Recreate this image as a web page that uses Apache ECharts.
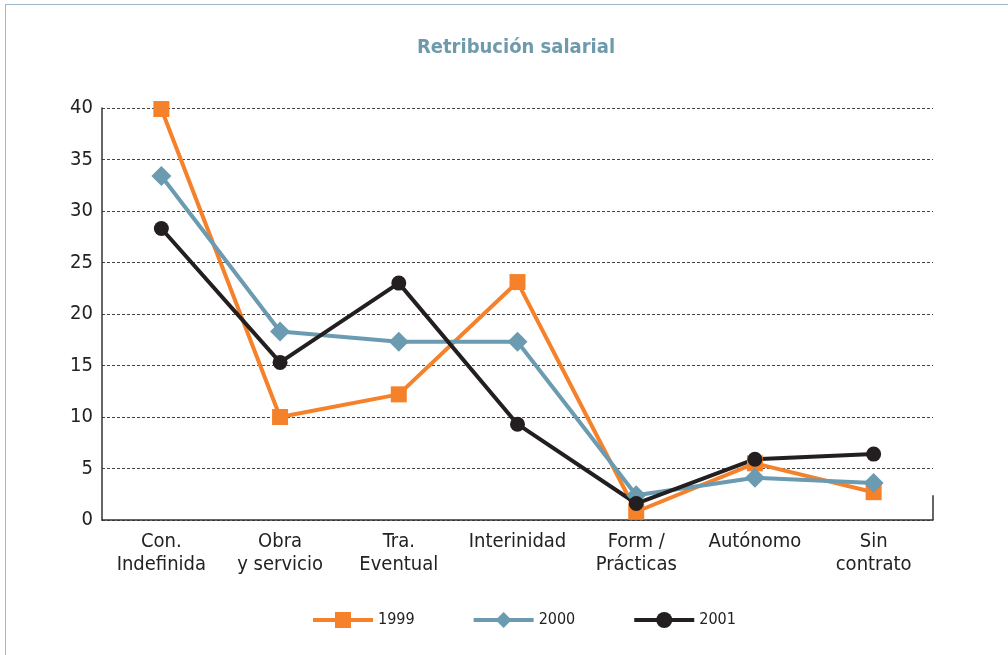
<!DOCTYPE html>
<html>
<head>
<meta charset="utf-8">
<script src="https://cdn.jsdelivr.net/npm/echarts@6/dist/echarts.min.js"></script>
<style>
html,body{margin:0;padding:0;background:#fff;}
#frame{position:absolute;left:5px;top:4px;width:1003px;height:651px;border-left:1.5px solid #9db8c8;border-top:1.5px solid #9db8c8;box-sizing:border-box;}
#chart{position:absolute;left:0;top:0;width:1008px;height:655px;}
</style>
</head>
<body>
<div id="frame"></div>
<div id="chart"></div>
<script>
var categories = ['Con.\nIndefinida', 'Obra\ny servicio', 'Tra.\nEventual', 'Interinidad', 'Form /\nPrácticas', 'Autónomo', 'Sin\ncontrato'];
var values1999 = [39.9, 10.0, 12.2, 23.1, 0.8, 5.5, 2.7];
var values2000 = [33.4, 18.3, 17.3, 17.3, 2.4, 4.1, 3.6];
var values2001 = [28.3, 15.3, 23.0, 9.3, 1.6, 5.9, 6.4];
var yTicks = [0, 5, 10, 15, 20, 25, 30, 35, 40];

var FONT = "'Liberation Sans Narrow','DejaVu Sans Condensed','Open Sans',sans-serif";
var chart = echarts.init(document.getElementById('chart'));
function lineSeries(name, data, color, symbol, size) {
  return {
    name: name, type: 'line', data: data,
    symbol: symbol, symbolSize: size,
    lineStyle: {color: color, width: 4},
    itemStyle: {color: color},
    z: 3
  };
}
chart.setOption({
  animation: false,
  title: {
    text: 'Retribución salarial', left: 511, top: 33, textAlign: 'center',
    textStyle: {color: '#6f9aab', fontSize: 20, fontWeight: 'bold', fontFamily: FONT}
  },
  grid: {left: 102, right: 75, top: 108, bottom: 135},
  xAxis: {
    type: 'category', data: categories, boundaryGap: true,
    axisLine: {lineStyle: {color: '#333', width: 1.5}},
    axisTick: {inside: true, length: 7, lineStyle: {color: '#333', width: 1.5}},
    axisLabel: {color: '#222', fontSize: 20, fontFamily: FONT, lineHeight: 23, margin: 10, interval: 0}
  },
  yAxis: {
    type: 'value', min: yTicks[0], max: yTicks[yTicks.length - 1], interval: 5,
    axisLine: {show: true, lineStyle: {color: '#333', width: 1.5}},
    axisTick: {show: false},
    axisLabel: {color: '#222', fontSize: 20, fontFamily: FONT, margin: 9},
    splitLine: {show: true, lineStyle: {color: '#444', type: [3, 2], width: 1}}
  },
  legend: {
    bottom: 22, left: 306, itemWidth: 60, itemHeight: 20, itemGap: 57,
    lineStyle: {width: 4},
    textStyle: {color: '#222', fontSize: 16, fontFamily: FONT},
    data: ['1999', '2000', '2001']
  },
  series: [
    lineSeries('1999', values1999, '#f5822a', 'rect', 16),
    lineSeries('2000', values2000, '#6a9bb0', 'diamond', 20),
    lineSeries('2001', values2001, '#231f20', 'circle', 15)
  ]
});
// taller closing tick at the right end of the category axis
var pEnd = chart.convertToPixel({gridIndex: 0}, [0, 0]);
var pTop = chart.convertToPixel({yAxisIndex: 0}, 2.4);
var rightX = 1008 - 75;
chart.setOption({
  graphic: [{
    type: 'line', shape: {x1: rightX, y1: pEnd[1], x2: rightX, y2: pTop},
    style: {stroke: '#333', lineWidth: 1.5}, z: 10
  }]
});
</script>
</body>
</html>
